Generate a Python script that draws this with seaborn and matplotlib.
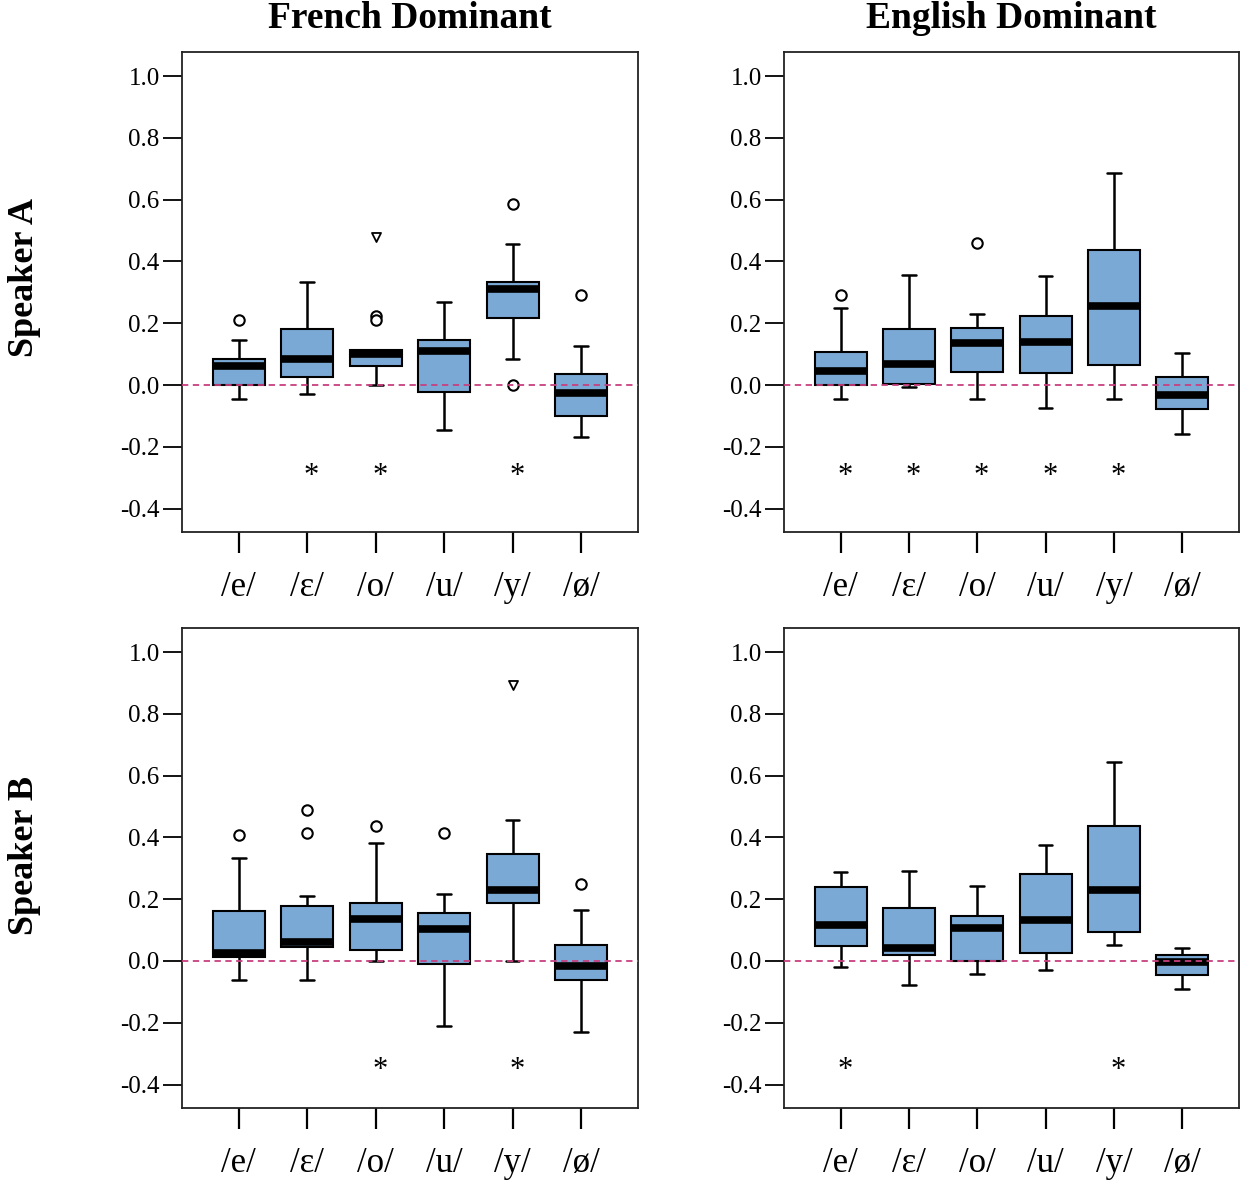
import numpy as np
import pandas as pd
import matplotlib
matplotlib.use("Agg")
import matplotlib.pyplot as plt
import seaborn as sns

# vowel categories
vowels = ["/e/", "/ɛ/", "/o/", "/u/", "/y/", "/ø/"]

# five-number summaries per panel: lower whisker, Q1, median, Q3, upper whisker
fa_lo = [-0.044, -0.028, 0.000, -0.145, 0.083, -0.167]
fa_q1 = [0.000, 0.027, 0.061, -0.024, 0.216, -0.100]
fa_md = [0.062, 0.084, 0.100, 0.110, 0.310, -0.026]
fa_q3 = [0.083, 0.180, 0.112, 0.145, 0.335, 0.035]
fa_hi = [0.145, 0.335, 0.112, 0.269, 0.458, 0.127]

ea_lo = [-0.044, -0.008, -0.044, -0.073, -0.044, -0.159]
ea_q1 = [0.000, 0.004, 0.042, 0.039, 0.065, -0.079]
ea_md = [0.047, 0.068, 0.136, 0.139, 0.257, -0.032]
ea_q3 = [0.106, 0.180, 0.186, 0.222, 0.437, 0.026]
ea_hi = [0.249, 0.357, 0.230, 0.354, 0.687, 0.104]

fb_lo = [-0.063, -0.063, 0.000, -0.209, 0.000, -0.230]
fb_q1 = [0.012, 0.044, 0.035, -0.009, 0.187, -0.063]
fb_md = [0.025, 0.062, 0.136, 0.104, 0.229, -0.016]
fb_q3 = [0.161, 0.178, 0.187, 0.155, 0.348, 0.051]
fb_hi = [0.333, 0.209, 0.383, 0.217, 0.458, 0.166]

eb_lo = [-0.020, -0.078, -0.042, -0.029, 0.053, -0.092]
eb_q1 = [0.047, 0.021, 0.000, 0.026, 0.093, -0.044]
eb_md = [0.117, 0.041, 0.107, 0.134, 0.229, -0.002]
eb_q3 = [0.241, 0.171, 0.147, 0.283, 0.436, 0.021]
eb_hi = [0.287, 0.292, 0.242, 0.376, 0.645, 0.042]

# outliers (circles) and extreme values (triangles)
fa_out_v = ["/e/", "/o/", "/o/", "/y/", "/y/", "/ø/"]
fa_out_y = [0.209, 0.222, 0.212, 0.585, 0.000, 0.292]
fa_ext_v = ["/o/"]
fa_ext_y = [0.478]

ea_out_v = ["/e/", "/o/"]
ea_out_y = [0.292, 0.460]
ea_ext_v = []
ea_ext_y = []

fb_out_v = ["/e/", "/ɛ/", "/ɛ/", "/o/", "/u/", "/ø/"]
fb_out_y = [0.407, 0.488, 0.416, 0.438, 0.416, 0.250]
fb_ext_v = ["/y/"]
fb_ext_y = [0.894]

eb_out_v = []
eb_out_y = []
eb_ext_v = []
eb_ext_y = []

# significance markers
fa_sig = ["/ɛ/", "/o/", "/y/"]
ea_sig = ["/e/", "/ɛ/", "/o/", "/u/", "/y/"]
fb_sig = ["/o/", "/y/"]
eb_sig = ["/e/", "/y/"]
sig_y_a = -0.296
sig_y_b = -0.355

yticks = [-0.4, -0.2, 0.0, 0.2, 0.4, 0.6, 0.8, 1.0]

box_color = "#7BA9D6"
ref_color = "#C8407F"
box_w = 0.76

sns.set_style("white")
plt.rcParams["font.family"] = ["Liberation Serif", "DejaVu Serif"]
plt.rcParams["text.color"] = "black"
plt.rcParams["axes.labelcolor"] = "black"
plt.rcParams["xtick.color"] = "black"
plt.rcParams["ytick.color"] = "black"


def draw_panel(ax, lo, q1, md, q3, hi, out_v, out_y, ext_v, ext_y, sig, sig_y):
    rows = []
    for i, v in enumerate(vowels):
        for val in [lo[i], q1[i], md[i], q3[i], hi[i]]:
            rows.append({"vowel": v, "value": val})
    df = pd.DataFrame(rows)

    sns.boxplot(data=df, x="vowel", y="value", order=vowels, ax=ax,
                whis=(0, 100), width=box_w, color=box_color, saturation=1,
                linecolor="black", linewidth=1.5, fliersize=0,
                medianprops={"linewidth": 5.5, "color": "black"},
                whiskerprops={"linewidth": 1.8},
                capprops={"linewidth": 1.8})

    # shorten the whisker caps
    for ln in ax.lines:
        xd = np.asarray(ln.get_xdata(), dtype=float)
        yd = np.asarray(ln.get_ydata(), dtype=float)
        if len(xd) == 2 and yd[0] == yd[1]:
            span = abs(xd[1] - xd[0])
            if 0 < span < 0.9 * box_w:
                c = xd.mean()
                ln.set_xdata([c - 0.1, c + 0.1])

    if out_v:
        sns.stripplot(x=out_v, y=out_y, order=vowels, ax=ax, jitter=False,
                      marker="o", size=7.5, color="white", edgecolor="black",
                      linewidth=1.5, zorder=5)
    if ext_v:
        sns.stripplot(x=ext_v, y=ext_y, order=vowels, ax=ax, jitter=False,
                      marker="v", size=6.5, color="white", edgecolor="black",
                      linewidth=1.3, zorder=5)

    ax.axhline(0, color=ref_color, ls=(0, (3.5, 2.5)), lw=1.3, zorder=6)

    for v in sig:
        ax.text(vowels.index(v) + 0.06, sig_y, "*", ha="center", va="center",
                fontsize=22, color="black")

    ax.set_xlim(-0.83, 5.83)
    ax.set_ylim(-0.476, 1.078)
    ax.set_yticks(yticks)
    ax.set_yticklabels([f"{t:.1f}" for t in yticks])
    ax.set_xlabel("")
    ax.set_ylabel("")
    ax.tick_params(axis="x", length=15, width=1.6, pad=13, labelsize=25,
                   bottom=True, color="black", labelcolor="black")
    ax.tick_params(axis="y", length=14, width=1.3, pad=2, labelsize=18,
                   left=True, color="black", labelcolor="black")
    for sp in ax.spines.values():
        sp.set_color("#222222")
        sp.set_linewidth(1.3)


fig = plt.figure(figsize=(12.42, 11.81), dpi=100)
ax_fa = fig.add_axes([0.1465, 0.5495, 0.3671, 0.4064])
ax_ea = fig.add_axes([0.6312, 0.5495, 0.3663, 0.4064])
ax_fb = fig.add_axes([0.1465, 0.0618, 0.3671, 0.4064])
ax_eb = fig.add_axes([0.6312, 0.0618, 0.3663, 0.4064])

draw_panel(ax_fa, fa_lo, fa_q1, fa_md, fa_q3, fa_hi, fa_out_v, fa_out_y,
           fa_ext_v, fa_ext_y, fa_sig, sig_y_a)
draw_panel(ax_ea, ea_lo, ea_q1, ea_md, ea_q3, ea_hi, ea_out_v, ea_out_y,
           ea_ext_v, ea_ext_y, ea_sig, sig_y_a)
draw_panel(ax_fb, fb_lo, fb_q1, fb_md, fb_q3, fb_hi, fb_out_v, fb_out_y,
           fb_ext_v, fb_ext_y, fb_sig, sig_y_b)
draw_panel(ax_eb, eb_lo, eb_q1, eb_md, eb_q3, eb_hi, eb_out_v, eb_out_y,
           eb_ext_v, eb_ext_y, eb_sig, sig_y_b)

ax_fa.set_title("French Dominant", fontsize=27, fontweight="bold", pad=17,
                color="black")
ax_ea.set_title("English Dominant", fontsize=27, fontweight="bold", pad=17,
                color="black")

ax_fa.set_ylabel("Speaker A", fontsize=26, fontweight="bold", color="black")
ax_fa.yaxis.set_label_coords(-0.31, 0.53)
ax_fb.set_ylabel("Speaker B", fontsize=26, fontweight="bold", color="black")
ax_fb.yaxis.set_label_coords(-0.31, 0.527)

fig.savefig("out.png", dpi=100)
